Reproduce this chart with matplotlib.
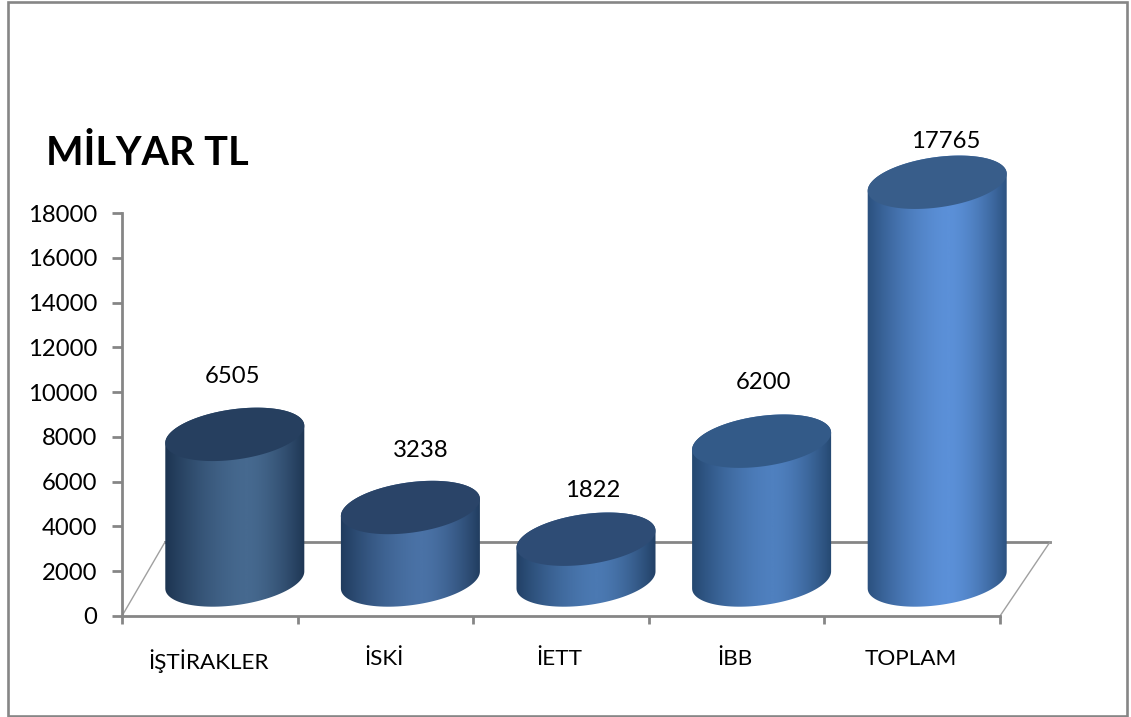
import numpy as np
import matplotlib
matplotlib.use("Agg")
import matplotlib.pyplot as plt
from matplotlib.colors import LinearSegmentedColormap
from matplotlib.patches import PathPatch, Rectangle
from matplotlib.path import Path

W, H = 1131, 717

categories = ["İŞTİRAKLER", "İSKİ", "İETT", "İBB", "TOPLAM"]
values = [6505, 3238, 1822, 6200, 17765]
y_ticks = [0, 2000, 4000, 6000, 8000, 10000, 12000, 14000, 16000, 18000]

# colours of each cylinder: edge, middle, lid
edge_colors = ["#1c3350", "#1f3a5c", "#213f64", "#24476f", "#2a4f7c"]
mid_colors = ["#46698f", "#4a72a6", "#4b79b2", "#4f80bf", "#5b90d8"]
lid_colors = ["#263f5f", "#2a4468", "#2e4c75", "#335a88", "#385d8a"]
label_dx = [-2, 10, 7, 2, 9]
label_dy = [58, 57, 49, 59, 41]

plt.rcParams["font.family"] = ["Lato", "DejaVu Sans"]
GREY = "#868686"

fig = plt.figure(figsize=(W / 100, H / 100), dpi=100)
ax = fig.add_axes([122 / W, (H - 616) / H, (1000 - 122) / W, (616 - 213) / H])
ax.set_xlim(0, 5)
ax.set_ylim(0, 18000)


def px(x, y):
    # picture pixels (y down) to data coordinates
    return ax.transData.inverted().transform((x, H - y))


def ellipse_points(cx, cy, t):
    # tilted ellipse of the cylinder ends, in display coordinates
    a, b, tilt = 70.1, 25.1, np.radians(8)
    xs = cx + a * np.cos(t) * np.cos(tilt) - b * np.sin(t) * np.sin(tilt)
    ys = cy + a * np.cos(t) * np.sin(tilt) + b * np.sin(t) * np.cos(tilt)
    return np.column_stack([xs, ys])


def cylinder(i, value):
    # base of the cylinder sits behind the front axis edge
    depth_x, depth_y = 25, 36
    bx, by = ax.transData.transform((i + 0.5, 0))
    tx, ty = ax.transData.transform((i + 0.5, value))
    bx, by, tx, ty = bx + depth_x, by + depth_y, tx + depth_x, ty + depth_y
    t0 = np.arctan2(-25.1 * np.sin(np.radians(8)), 70.1 * np.cos(np.radians(8)))
    upper = np.linspace(t0, t0 + np.pi, 60)
    lower = np.linspace(t0 + np.pi, t0 + 2 * np.pi, 60)
    body = np.vstack([ellipse_points(tx, ty, upper), ellipse_points(bx, by, lower)])
    lid = ellipse_points(tx, ty, np.linspace(0, 2 * np.pi, 120))

    inv = ax.transData.inverted()
    body_patch = PathPatch(Path(inv.transform(body), closed=False), fc="none", ec="none", zorder=4, clip_on=False)
    ax.add_patch(body_patch)

    cmap = LinearSegmentedColormap.from_list("bar", [edge_colors[i], mid_colors[i]])
    # shading across the cylinder, brightest a bit right of the middle
    s = np.linspace(0, 1, 300)
    shade = 1 - np.where(s < 0.58, (0.58 - s) / 0.58, (s - 0.58) / 0.42) ** 1.6
    x0 = inv.transform((bx - 71, 0))[0]
    x1 = inv.transform((bx + 71, 0))[0]
    y0 = inv.transform((0, by - 40))[1]
    y1 = inv.transform((0, ty + 40))[1]
    im = ax.imshow(shade.reshape(1, -1), extent=[x0, x1, y0, y1], aspect="auto",
                   cmap=cmap, zorder=4, interpolation="bilinear")
    im.set_clip_box(fig.bbox)
    im.set_clip_path(body_patch)

    ax.add_patch(PathPatch(Path(inv.transform(lid)), fc=lid_colors[i], ec="none", zorder=5, clip_on=False))


# outer frame
fig.add_artist(Rectangle((7.5 / W, 1 / H), 1119 / W, 714 / H, transform=fig.transFigure,
                         fc="none", ec=GREY, lw=1.9))

# floor of the 3d plot
back_r, front_l, front_r = px(1050, 542), px(122, 616), px(1000, 616)
back_m = px(165, 542)
ax.plot([back_m[0], back_r[0]], [back_m[1], back_r[1]], color=GREY, lw=2, clip_on=False, zorder=1)
ax.plot([front_l[0], back_m[0]], [front_l[1], back_m[1]], color="#a0a0a0", lw=1, clip_on=False, zorder=1)
ax.plot([front_r[0], back_r[0]], [front_r[1], back_r[1]], color="#a0a0a0", lw=1, clip_on=False, zorder=1)

for i, v in enumerate(values):
    cylinder(i, v)
    ax.annotate(str(v), (i + 0.5, v), xytext=(25 + label_dx[i], 36 + label_dy[i]), textcoords="offset pixels",
                ha="center", va="center", fontsize=17.2, color="black", zorder=6)

ax.set_xlim(0, 5)
ax.set_ylim(0, 18000)
ax.set_aspect("auto")

for side in ["top", "right"]:
    ax.spines[side].set_visible(False)
for side in ["left", "bottom"]:
    ax.spines[side].set_color(GREY)
    ax.spines[side].set_linewidth(2)

ax.set_yticks(y_ticks)
ax.tick_params(axis="y", length=7, width=2, color=GREY, labelsize=17.2, pad=11)
ax.set_xticks(range(6))
ax.tick_params(axis="x", which="major", length=6, width=2, color=GREY, labelbottom=False)
ax.set_xticks(np.arange(5) + 0.49, minor=True)
ax.set_xticklabels(categories, minor=True)
ax.tick_params(axis="x", which="minor", length=0, labelsize=16.2, pad=24)

fig.text(46 / W, (H - 165) / H, "MİLYAR TL", fontsize=28.5, fontweight="bold", color="black", ha="left", va="baseline")

fig.savefig("out.png", dpi=100)
